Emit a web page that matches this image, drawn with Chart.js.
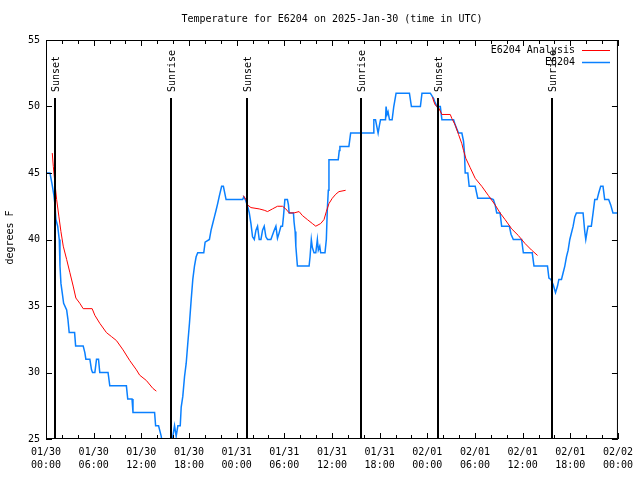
<!DOCTYPE html>
<html>
<head>
<meta charset="utf-8">
<script src="https://cdn.jsdelivr.net/npm/chart.js@4.4.1/dist/chart.umd.min.js"></script>
<style>
  html, body { margin: 0; padding: 0; background: #fff; }
</style>
</head>
<body>
<canvas id="tempChart" width="640" height="480"></canvas>
<script>
// hours since 01/30 00:00 UTC
const obsHours = [
  0, 0.50, 0.75, 1.00, 1.13, 1.25, 1.47, 1.67, 1.76, 1.88,
  2.04, 2.22, 2.60, 2.76, 2.92, 3.60, 3.73, 4.68, 4.89, 5.02,
  5.52, 5.73, 5.86, 6.15, 6.36, 6.61, 6.77, 7.81, 8.03, 10.12,
  10.29, 10.83, 10.95, 13.67, 13.80, 14.17, 14.51, 14.70, 15.20, 15.80,
  15.97, 16.18, 16.39, 16.60, 16.90, 17.02, 17.22, 17.44, 17.65, 17.85,
  18.06, 18.28, 18.48, 18.69, 18.90, 19.10, 19.86, 20.03, 20.57, 20.78,
  20.99, 21.20, 21.41, 21.61, 21.83, 22.11, 22.33, 22.67, 24.75, 24.90,
  25.09, 25.38, 25.59, 25.80, 26.00, 26.22, 26.43, 26.63, 26.84, 27.06,
  27.26, 27.47, 27.68, 27.89, 28.31, 28.73, 28.94, 29.14, 29.35, 29.57,
  29.77, 29.89, 30.07, 30.39, 30.52, 30.61, 31.15, 31.23, 31.36, 31.45,
  31.65, 33.12, 33.24, 33.40, 33.53, 33.74, 33.96, 34.16, 34.28, 34.46,
  34.58, 35.12, 35.29, 35.41, 35.54, 35.62, 36.79, 36.92, 37.00, 38.13,
  38.35, 41.18, 41.27, 41.48, 41.68, 41.81, 41.98, 42.11, 42.74, 42.81,
  42.94, 43.06, 43.24, 43.57, 43.78, 43.90, 44.07, 45.75, 46.00, 47.13,
  47.33, 48.38, 48.80, 48.92, 49.21, 49.64, 49.84, 51.31, 51.52, 51.72,
  51.93, 52.35, 52.56, 52.68, 52.77, 53.10, 53.27, 54.03, 54.35, 55.91,
  56.32, 56.54, 56.74, 57.16, 57.36, 58.33, 58.54, 58.83, 59.87, 60.09,
  61.21, 61.43, 63.13, 63.31, 63.56, 63.85, 64.14, 64.39, 64.56, 64.89,
  65.10, 65.31, 65.52, 65.73, 65.94, 66.36, 66.57, 66.77, 67.61, 67.82,
  67.95, 68.11, 68.24, 68.65, 68.87, 69.08, 69.37, 69.58, 69.83, 70.12,
  70.33, 70.83, 71.09, 71.37, 71.91
];
const obsTemps = [
  45, 45, 44.2, 43.3, 42.6, 41.5, 41, 40, 38, 36.7,
  36, 35.2, 34.7, 34, 33, 33, 32, 32, 31.5, 31,
  31, 30.2, 30, 30, 31, 31, 30, 30, 29, 29,
  28, 28, 27, 27, 26, 26, 25.2, 24.3, 24, 24.3,
  25.2, 26, 25.2, 26, 26, 27.4, 28.2, 29.7, 30.7, 32.2,
  33.7, 35.5, 37, 38, 38.7, 39, 39, 39.8, 40, 40.7,
  41.2, 41.7, 42.2, 42.7, 43.3, 44, 44, 43, 43, 43.2,
  43, 42.5, 42, 41.2, 40.2, 40, 40.7, 41, 40, 40,
  40.7, 41, 40.2, 40, 40, 40.7, 41, 40.1, 40.5, 41,
  41, 41.7, 43, 43, 42.6, 42, 42, 41.3, 40.6, 39.5,
  38, 38, 38.7, 40, 39.4, 39, 39, 40, 39.2, 39.5,
  39, 39, 40, 42.2, 43.7, 46, 46, 46.7, 47, 47,
  48, 48, 49, 49, 48.4, 48, 48.6, 49, 49, 50,
  49.4, 49.6, 49, 49, 50, 50.4, 51, 51, 50, 50,
  51, 51, 50.6, 50.4, 50, 50, 49, 49, 48.6, 48.3,
  48, 48, 47.4, 46.5, 45, 45, 44, 44, 43.1, 43.1,
  43, 42.6, 42, 42, 41, 41, 40.4, 40, 40, 39,
  39, 38, 38, 37.1, 37, 36.6, 36, 36.5, 37, 37,
  37.5, 38, 38.7, 39.2, 40, 41, 41.7, 42, 42, 40.6,
  40, 40.6, 41, 41, 42, 43, 43, 43.5, 44, 44,
  43, 43, 42.6, 42, 42
];

// analysis runs, null = break between runs
const analysisHours = [
  0.79, 0.92, 1.13, 1.34, 1.63, 1.88, 2.17, 2.60, 3.01, 3.42,
  3.76, 4.26, 4.68, 5.81, 6.15, 6.77, 7.61, 8.24, 8.87, 9.70,
  10.54, 11.38, 11.79, 12.63, 13.46, 13.89,
  19,
  24.84, 25.18, 25.38, 25.80, 26.84, 27.47, 27.89, 28.51, 29.14, 29.77,
  30.19, 30.61, 31.23, 31.86, 32.28, 32.90, 33.53, 33.96, 34.58, 35.00,
  35.29, 35.62, 36.04, 36.47, 36.88, 37.72,
  43,
  48.67, 48.80, 49.01, 49.42, 49.84, 50.89, 51.09, 51.52, 51.93, 52.35,
  52.56, 52.85, 53.40, 54.03, 54.86, 55.70, 56.54, 57.16, 57.79, 58.62,
  59.46, 60.30, 61.13, 61.88
];
const analysisTemps = [
  46.5, 45.5, 44.2, 43, 41.7, 40.6, 39.5, 38.5, 37.5, 36.5,
  35.6, 35.2, 34.8, 34.8, 34.3, 33.7, 33, 32.7, 32.4, 31.7,
  30.9, 30.2, 29.8, 29.4, 28.8, 28.6,
  null,
  43.3, 43, 42.6, 42.4, 42.3, 42.2, 42.1, 42.3, 42.5, 42.5,
  42.3, 42, 42, 42.1, 41.8, 41.5, 41.2, 41.0, 41.2, 41.5,
  42.1, 42.7, 43.1, 43.4, 43.6, 43.7,
  null,
  50.7, 50.4, 50.1, 49.9, 49.4, 49.4, 49.1, 48.6, 47.9, 47.2,
  46.7, 46.1, 45.4, 44.6, 44, 43.3, 42.6, 42, 41.5, 40.8,
  40.3, 39.7, 39.2, 38.8
];

const sunHours = [1.15, 15.77, 25.25, 39.7, 49.34, 63.76];
const sunLabels = ['Sunset', 'Sunrise', 'Sunset', 'Sunrise', 'Sunset', 'Sunrise'];

const dayLabels = ['01/30', '01/31', '02/01', '02/02'];
const titleText = 'Temperature for E6204 on 2025-Jan-30 (time in UTC)';
const yTitle = 'degrees F';

const FONT = '10px "DejaVu Sans Mono"';

function toPoints(xs, ys) {
    return xs.map((x, i) => ({ x: x, y: ys[i] }));
}

const decorPlugin = {
    id: 'decor',
    afterDatasetsDraw(chart) {
        const ctx = chart.ctx;
        const a = chart.chartArea;
        const xs = chart.scales.x;
        const ys = chart.scales.y;
        ctx.save();

        // sunrise / sunset markers
        ctx.strokeStyle = '#000';
        ctx.lineWidth = 2;
        ctx.fillStyle = '#000';
        ctx.font = FONT;
        sunHours.forEach((h, i) => {
            const px = Math.round(xs.getPixelForValue(h));
            ctx.beginPath();
            ctx.moveTo(px, 98);
            ctx.lineTo(px, a.bottom);
            ctx.stroke();
            ctx.save();
            ctx.translate(px + 1, 92);
            ctx.rotate(-Math.PI / 2);
            ctx.textAlign = 'left';
            ctx.textBaseline = 'middle';
            ctx.fillText(sunLabels[i], 0, 0);
            ctx.restore();
        });

        // border
        ctx.lineWidth = 1;
        ctx.strokeRect(a.left + 0.5, a.top + 0.5, a.right - a.left - 1, a.bottom - a.top - 1);

        // ticks, pointing inward, mirrored
        ctx.beginPath();
        for (let h = 0; h <= 72; h += 2) {
            const px = Math.round(xs.getPixelForValue(h)) + 0.5;
            const len = h % 6 === 0 ? 6 : 4;
            ctx.moveTo(px, a.bottom);
            ctx.lineTo(px, a.bottom - len);
            ctx.moveTo(px, a.top);
            ctx.lineTo(px, a.top + len);
        }
        for (let t = 25; t <= 55; t += 5) {
            const py = Math.round(ys.getPixelForValue(t)) + 0.5;
            ctx.moveTo(a.left, py);
            ctx.lineTo(a.left + 6, py);
            ctx.moveTo(a.right, py);
            ctx.lineTo(a.right - 6, py);
        }
        ctx.stroke();

        // title
        ctx.textAlign = 'center';
        ctx.textBaseline = 'middle';
        ctx.fillText(titleText, (a.left + a.right) / 2, 19);

        // y axis title
        ctx.save();
        ctx.translate(10, (a.top + a.bottom) / 2 - 2);
        ctx.rotate(-Math.PI / 2);
        ctx.fillText(yTitle, 0, 0);
        ctx.restore();

        // legend
        ctx.textAlign = 'right';
        chart.data.datasets.forEach((ds, i) => {
            const ly = 50 + i * 12;
            ctx.fillStyle = '#000';
            ctx.fillText(ds.label, 575, ly);
            ctx.strokeStyle = ds.borderColor;
            ctx.lineWidth = ds.borderWidth;
            ctx.beginPath();
            ctx.moveTo(582, ly + 0.5);
            ctx.lineTo(610, ly + 0.5);
            ctx.stroke();
        });

        ctx.restore();
    }
};

Chart.defaults.font.family = 'DejaVu Sans Mono';
Chart.defaults.font.size = 10;
Chart.defaults.color = '#000';

new Chart(document.getElementById('tempChart').getContext('2d'), {
    type: 'line',
    data: {
        datasets: [
            {
                label: 'E6204 Analysis',
                data: toPoints(analysisHours, analysisTemps),
                borderColor: '#ff0000',
                borderWidth: 1,
                pointRadius: 0,
                spanGaps: false,
                tension: 0,
                order: 0
            },
            {
                label: 'E6204',
                data: toPoints(obsHours, obsTemps),
                borderColor: '#0a80ff',
                borderWidth: 1.5,
                pointRadius: 0,
                tension: 0,
                order: 1
            }
        ]
    },
    options: {
        responsive: false,
        animation: false,
        devicePixelRatio: 1,
        layout: { padding: { top: 40, right: 20, left: 0, bottom: 0 } },
        plugins: {
            legend: { display: false },
            title: { display: false },
            tooltip: { enabled: false }
        },
        scales: {
            x: {
                type: 'linear',
                min: 0,
                max: 72,
                afterFit: s => { s.height = 41; },
                grid: { display: false, drawTicks: false },
                border: { display: false },
                ticks: {
                    stepSize: 6,
                    autoSkip: false,
                    maxRotation: 0,
                    padding: 7,
                    font: { size: 10, lineHeight: 1.3 },
                    callback: v => {
                        const day = dayLabels[Math.floor(v / 24)];
                        const hr = String(v % 24).padStart(2, '0');
                        return [day, hr + ':00'];
                    }
                }
            },
            y: {
                min: 25,
                max: 55,
                afterFit: s => { s.width = 46; },
                grid: { display: false, drawTicks: false },
                border: { display: false },
                ticks: { stepSize: 5, padding: 6 }
            }
        }
    },
    plugins: [decorPlugin]
});
</script>
</body>
</html>
